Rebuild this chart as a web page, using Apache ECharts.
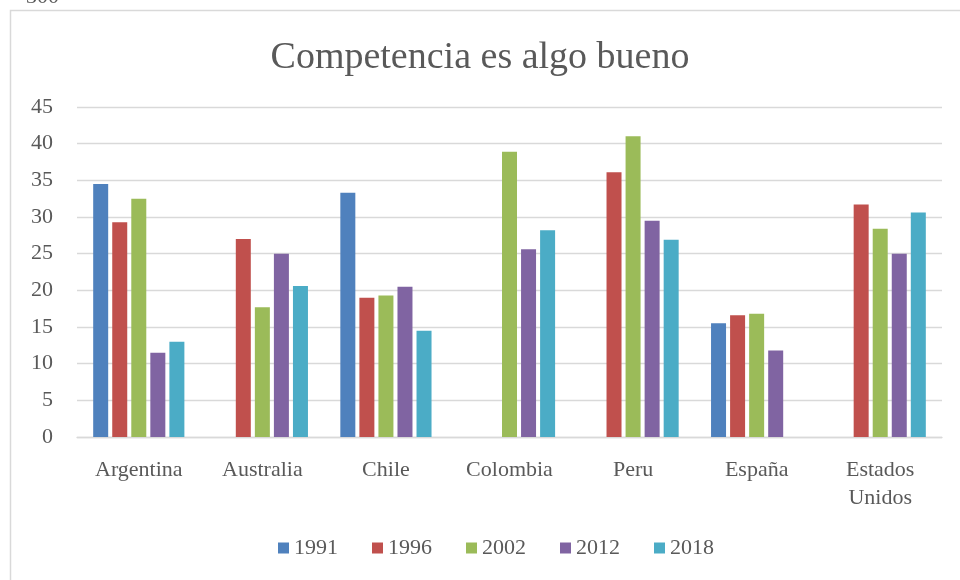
<!DOCTYPE html>
<html>
<head>
    <meta charset="utf-8">
    <title>Competencia es algo bueno</title>
    <style type="text/css">
        html, body { height: 100%; margin: 0; padding: 0; background: #fff; }
        #main { width: 960px; height: 580px; }
    </style>
</head>
<body>
<div id="main"></div>
<script type="text/javascript" src="https://cdn.jsdelivr.net/npm/echarts@6/dist/echarts.min.js"></script>
<script type="text/javascript">
    // datos
    var paises = ['Argentina', 'Australia', 'Chile', 'Colombia', 'Peru', 'España', 'Estados Unidos'];
    var anios = ['1991', '1996', '2002', '2012', '2018'];
    var v1991 = [34.5, null, 33.3, null, null, 15.5, null];
    var v1996 = [29.3, 27.0, 19.0, null, 36.1, 16.6, 31.7];
    var v2002 = [32.5, 17.7, 19.3, 38.9, 41.0, 16.8, 28.4];
    var v2012 = [11.5, 25.0, 20.5, 25.6, 29.5, 11.8, 25.0];
    var v2018 = [13.0, 20.6, 14.5, 28.2, 26.9, null, 30.6];
    var colores = ['#4f81bd', '#c0504d', '#9bbb59', '#8064a2', '#4bacc6'];

    var fuente = '"Liberation Serif", "DejaVu Serif", serif';
    var gris = '#595959';

    var myChart = echarts.init(document.getElementById('main'));

    var valores = [v1991, v1996, v2002, v2012, v2018];
    var series = [];
    for (var i = 0; i < anios.length; i++) {
        series.push({
            name: anios[i],
            type: 'bar',
            data: valores[i],
            barWidth: 15,
            barGap: '27%',
            itemStyle: { color: colores[i] }
        });
    }

    var option = {
        backgroundColor: '#fff',
        animation: false,
        color: colores,
        title: {
            text: 'Competencia es algo bueno',
            left: 'center',
            top: 34,
            textStyle: { fontFamily: fuente, fontSize: 38, fontWeight: 'normal', color: gris }
        },
        //marco del grafico
        graphic: [
            {
                type: 'rect',
                shape: { x: 10.5, y: 10.5, width: 960, height: 600 },
                style: { fill: null, stroke: '#d9d9d9', lineWidth: 1.5 }
            },
            {
                type: 'text',
                left: 26,
                top: -14,
                style: { text: '300', font: '22px ' + fuente, fill: gris }
            }
        ],
        legend: {
            data: anios,
            bottom: 16,
            left: 273,
            itemWidth: 11,
            itemHeight: 11,
            itemGap: 34,
            icon: 'rect',
            textStyle: { fontFamily: fuente, fontSize: 22, color: gris }
        },
        grid: {
            left: 77,
            right: 18,
            top: 107,
            bottom: 143
        },
        xAxis: {
            type: 'category',
            data: paises,
            axisLine: { lineStyle: { color: '#d9d9d9', width: 1.3 } },
            axisTick: { show: false },
            axisLabel: {
                fontFamily: fuente,
                fontSize: 22,
                color: gris,
                margin: 19,
                lineHeight: 28,
                interval: 0,
                formatter: function (v) { return v.replace(' ', '\n'); }
            }
        },
        yAxis: {
            type: 'value',
            min: 0,
            max: 45,
            interval: 5,
            axisLine: { show: false },
            axisTick: { show: false },
            axisLabel: { fontFamily: fuente, fontSize: 22, color: gris, margin: 24 },
            splitLine: { lineStyle: { color: '#d9d9d9', width: 1.3 } }
        },
        series: series
    };

    myChart.setOption(option);
</script>
</body>
</html>
